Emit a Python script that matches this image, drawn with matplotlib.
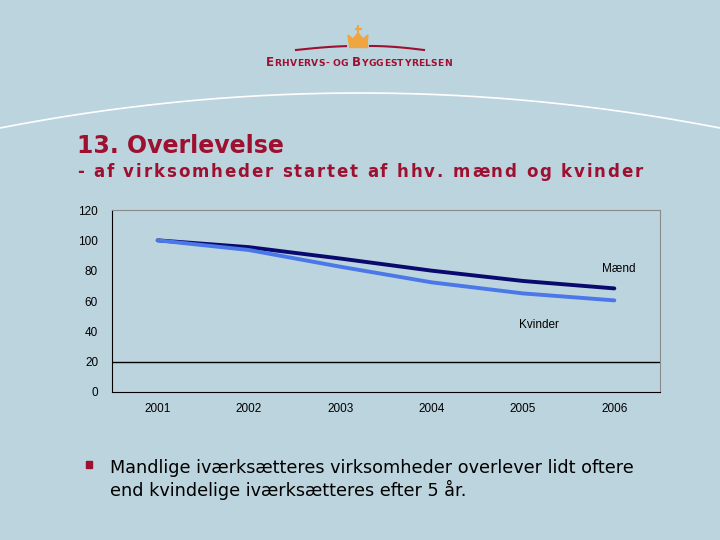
import numpy as np
import matplotlib.pyplot as plt
from matplotlib.patches import Polygon, Rectangle

# data
years = ['2001', '2002', '2003', '2004', '2005', '2006']
maend = [100, 95.5, 88, 80, 73.2, 68.3]
kvinder = [100, 93.6, 82.6, 72.3, 65, 60.4]

bg = '#BCD4DE'
red = '#9E1030'

fig = plt.figure(figsize=(7.2, 5.4), dpi=100)
fig.patch.set_facecolor(bg)
renderer = fig.canvas.get_renderer()

# decorative layer covering the whole figure (pixel coords)
deco = fig.add_axes([0, 0, 1, 1])
deco.set_xlim(0, 720)
deco.set_ylim(540, 0)
deco.axis('off')


def text_width(s, **kw):
    t = deco.text(0, 0, s + 'x', **kw)
    w = t.get_window_extent(renderer).width
    t.remove()
    t = deco.text(0, 0, 'x', **kw)
    w -= t.get_window_extent(renderer).width
    t.remove()
    return w


def spaced_text(x, y, runs, tracking=0.0, **kw):
    # runs: list of (string, fontsize); chars placed one by one
    for s, size in runs:
        for ch in s:
            deco.text(x, y, ch, fontsize=size, ha='left', va='baseline', **kw)
            x += text_width(ch, fontsize=size, **kw) + tracking
    return x


# white arc under the header
t = np.linspace(0, 720, 200)
deco.plot(t, 93 + 0.00027 * (t - 360) ** 2, color='white', lw=1.2)

# logo: crown + two red swooshes + name
crown = '#F0A640'
deco.add_patch(Polygon([[349, 43], [348, 35], [353, 39], [358, 33], [363, 39],
                        [368, 35], [367, 43]], closed=True, color=crown))
deco.add_patch(Rectangle((349, 43), 18, 4, color=crown))
deco.plot([358, 358], [26, 33], color=crown, lw=1.5)
deco.plot([355.5, 360.5], [29, 29], color=crown, lw=1.5)
deco.plot(np.linspace(296, 346, 30), 50 - 4 * np.sin(np.linspace(0, 1.3, 30)),
          color=red, lw=1.5)
deco.plot(np.linspace(370, 424, 30), 46 + 4 * (1 - np.cos(np.linspace(0, 1.3, 30))) / 0.73,
          color=red, lw=1.5)
spaced_text(266, 66, [('E', 8.5), ('RHVERVS- OG ', 6.6), ('B', 8.5), ('YGGESTYRELSEN', 6.6)],
            tracking=0.3, color=red, fontweight='bold')

# titles
deco.text(77, 153, '13. Overlevelse', color=red, fontsize=17,
          fontweight='bold', ha='left', va='baseline')
spaced_text(77, 177, [('- af virksomheder startet af hhv. mænd og kvinder', 12)],
            tracking=1.85, color=red, fontweight='bold')

# bullet text
deco.add_patch(Rectangle((86, 461), 6, 7, color=red))
deco.text(110, 468, 'Mandlige iværksætteres virksomheder overlever lidt oftere',
          fontsize=12.7, ha='left', va='center')
deco.text(110, 490, 'end kvindelige iværksætteres efter 5 år.',
          fontsize=12.7, ha='left', va='center')

# chart
ax = fig.add_axes([112 / 720, 1 - 392 / 540, 548 / 720, 182 / 540])
ax.set_facecolor(bg)
x = np.arange(len(years))
ax.plot(x, maend, color='#0A0A6E', lw=2.8, solid_capstyle='round')
ax.plot(x, kvinder, color='#4A78E8', lw=2.8, solid_capstyle='round')
ax.axhline(20, color='black', lw=1)

ax.set_xlim(-0.5, 5.5)
ax.set_ylim(0, 120)
ax.set_yticks(range(0, 121, 20))
ax.set_xticks(x)
ax.set_xticklabels(years)
ax.tick_params(axis='both', labelsize=8.5, length=0, pad=8)
ax.tick_params(axis='y', pad=10)
for lab in ax.get_xticklabels() + ax.get_yticklabels():
    lab.set_family('Liberation Sans')
for s in ['top', 'right']:
    ax.spines[s].set_color('#8A8A8A')
for s in ['left', 'bottom']:
    ax.spines[s].set_color('black')

ax.text(5.05, 81, 'Mænd', fontsize=8.5, family='Liberation Sans', ha='center', va='center')
ax.text(4.17, 44, 'Kvinder', fontsize=8.5, family='Liberation Sans', ha='center', va='center')

fig.savefig('out.png', dpi=100, facecolor=bg)
